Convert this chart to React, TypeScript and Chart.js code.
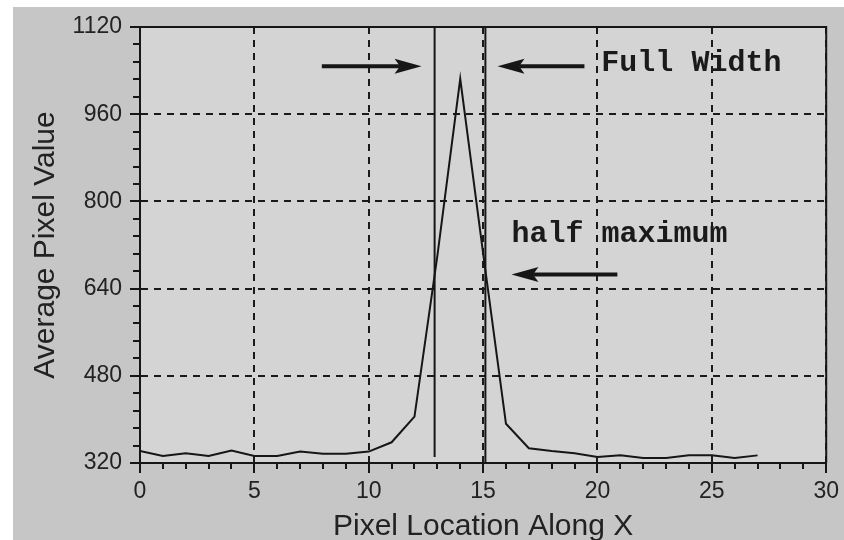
import React, { useEffect, useRef } from 'react';
import { Chart, registerables } from 'chart.js';

Chart.register(...registerables);

// ---- data ----
const pixelLocation = [0, 1, 2, 3, 4, 5, 6, 7, 8, 9, 10, 11, 12, 13, 14, 15, 16, 17, 18, 19, 20, 21, 22, 23, 24, 25, 26, 27];
const averagePixelValue = [342, 333, 338, 333, 343, 333, 333, 341, 337, 337, 341, 358, 405, 700, 1025, 705, 392, 347, 342, 338, 331, 334, 329, 329, 334, 334, 329, 334];

const xTickValues = [0, 5, 10, 15, 20, 25, 30];
const yTickValues = [320, 480, 640, 800, 960, 1120];
const xMinorStep = 1;
const yMinorStep = 32;

// full-width marker lines (x position, y span)
const fwhmLeftX = 12.88;
const fwhmLeftSpan = [331, 1120];
const fwhmRightX = 15.1;
const fwhmRightSpan = [320, 1120];

// annotations in data coordinates
const labelTexts = ['Full Width', 'half maximum'];
const labelX = [20.17, 16.24];
const labelY = [1039, 726];

const arrowFromX = [7.95, 19.43, 20.87];
const arrowToX = [12.31, 15.63, 16.24];
const arrowY = [1048, 1048, 666];

const INK = '#161616';

const decorPlugin = {
  id: 'decor',
  beforeDraw(chart: any) {
    const { ctx, width, height, chartArea: a } = chart;
    ctx.save();
    ctx.fillStyle = '#ffffff';
    ctx.fillRect(0, 0, width, height);
    ctx.fillStyle = '#c6c6c6';
    ctx.fillRect(13, 7, width - 13, height - 7);
    ctx.fillStyle = '#d4d4d4';
    ctx.fillRect(a.left, a.top, a.right - a.left, a.bottom - a.top);
    ctx.restore();
  },
  afterDraw(chart: any) {
    const { ctx, chartArea: a, scales } = chart;
    const xs = scales.x;
    const ys = scales.y;
    ctx.save();
    // frame top & right
    ctx.strokeStyle = INK;
    ctx.lineWidth = 2;
    ctx.beginPath();
    ctx.moveTo(a.left, a.top);
    ctx.lineTo(a.right, a.top);
    ctx.lineTo(a.right, a.bottom);
    ctx.stroke();

    // minor ticks
    ctx.lineWidth = 2;
    ctx.beginPath();
    for (let v = xs.min; v <= xs.max + 1e-9; v += xMinorStep) {
      const px = Math.round(xs.getPixelForValue(v));
      ctx.moveTo(px, a.bottom);
      ctx.lineTo(px, a.bottom + 6);
    }
    for (let v = ys.min; v <= ys.max + 1e-9; v += yMinorStep) {
      const py = Math.round(ys.getPixelForValue(v));
      ctx.moveTo(a.left, py);
      ctx.lineTo(a.left - 7, py);
    }
    ctx.stroke();

    // arrows
    ctx.fillStyle = INK;
    for (let i = 0; i < arrowFromX.length; i++) {
      const x0 = xs.getPixelForValue(arrowFromX[i]);
      const x1 = xs.getPixelForValue(arrowToX[i]);
      const y = ys.getPixelForValue(arrowY[i]);
      const dir = x1 > x0 ? 1 : -1;
      const headLen = 27;
      const headHalf = 7.5;
      ctx.lineWidth = 4;
      ctx.beginPath();
      ctx.moveTo(x0, y);
      ctx.lineTo(x1 - dir * headLen * 0.8, y);
      ctx.stroke();
      ctx.beginPath();
      ctx.moveTo(x1, y);
      ctx.lineTo(x1 - dir * headLen, y - headHalf);
      ctx.lineTo(x1 - dir * headLen * 0.8, y);
      ctx.lineTo(x1 - dir * headLen, y + headHalf);
      ctx.closePath();
      ctx.fill();
    }

    // text labels
    ctx.font = 'bold 30px "Liberation Mono", "Courier New", monospace';
    ctx.textAlign = 'left';
    ctx.textBaseline = 'alphabetic';
    ctx.fillStyle = '#1a1a1a';
    for (let i = 0; i < labelTexts.length; i++) {
      ctx.fillText(labelTexts[i], xs.getPixelForValue(labelX[i]), ys.getPixelForValue(labelY[i]));
    }
    ctx.restore();
  },
};

export default function App() {
  const canvasRef = useRef<HTMLCanvasElement | null>(null);

  useEffect(() => {
    const canvas = canvasRef.current;
    if (!canvas) return;

    const profile = pixelLocation.map((x, i) => ({ x, y: averagePixelValue[i] }));

    const chart = new Chart(canvas, {
      type: 'line',
      data: {
        datasets: [
          {
            label: 'Average Pixel Value',
            data: profile,
            borderColor: INK,
            borderWidth: 2,
            pointRadius: 0,
            tension: 0,
            fill: false,
          },
          {
            label: 'FWHM left',
            data: [
              { x: fwhmLeftX, y: fwhmLeftSpan[0] },
              { x: fwhmLeftX, y: fwhmLeftSpan[1] },
            ],
            borderColor: INK,
            borderWidth: 2,
            pointRadius: 0,
            fill: false,
          },
          {
            label: 'FWHM right',
            data: [
              { x: fwhmRightX, y: fwhmRightSpan[0] },
              { x: fwhmRightX, y: fwhmRightSpan[1] },
            ],
            borderColor: INK,
            borderWidth: 2,
            pointRadius: 0,
            fill: false,
          },
        ],
      },
      options: {
        responsive: false,
        animation: false,
        layout: { padding: { left: 0, top: 27, right: 17, bottom: 0 } },
        plugins: {
          legend: { display: false },
          tooltip: { enabled: false },
          title: { display: false },
        },
        scales: {
          x: {
            type: 'linear',
            min: 0,
            max: 30,
            afterBuildTicks: (s: any) => {
              s.ticks = xTickValues.map((v) => ({ value: v }));
            },
            afterFit: (s: any) => {
              s.height = 77;
            },
            ticks: {
              padding: 5,
              color: '#222',
              font: { family: '"Liberation Sans", Arial, sans-serif', size: 23 },
              maxRotation: 0,
              callback: (v: any) => String(v),
            },
            grid: {
              color: '#1a1a1a',
              lineWidth: 2,
              tickLength: 10,
              tickColor: INK,
              tickWidth: 2,
              tickBorderDash: [],
            },
            border: { display: true, color: INK, width: 2, dash: [7, 6] },
            title: {
              display: true,
              text: 'Pixel Location Along X',
              color: '#222',
              font: { family: '"Liberation Sans", Arial, sans-serif', size: 30, lineHeight: 0.9 },
              padding: { top: 0, bottom: 0 },
            },
          },
          y: {
            type: 'linear',
            min: 320,
            max: 1120,
            afterBuildTicks: (s: any) => {
              s.ticks = yTickValues.map((v) => ({ value: v }));
            },
            afterFit: (s: any) => {
              s.width = 140;
            },
            ticks: {
              padding: 8,
              color: '#222',
              font: { family: '"Liberation Sans", Arial, sans-serif', size: 23 },
              callback: (v: any) => String(v),
            },
            grid: {
              color: '#1a1a1a',
              lineWidth: 2,
              tickLength: 10,
              tickColor: INK,
              tickWidth: 2,
              tickBorderDash: [],
            },
            border: { display: true, color: INK, width: 2, dash: [7, 6] },
            title: {
              display: true,
              text: 'Average Pixel Value',
              color: '#222',
              font: { family: '"Liberation Sans", Arial, sans-serif', size: 30, lineHeight: 1 },
              padding: { top: 31, bottom: 0 },
            },
          },
        },
      },
      plugins: [decorPlugin],
    });

    return () => {
      chart.destroy();
    };
  }, []);

  return (
    <div style={{ position: 'absolute', left: 0, top: 0, width: 844, height: 540 }}>
      <canvas ref={canvasRef} width={844} height={540} style={{ display: 'block', width: 844, height: 540 }} />
    </div>
  );
}
